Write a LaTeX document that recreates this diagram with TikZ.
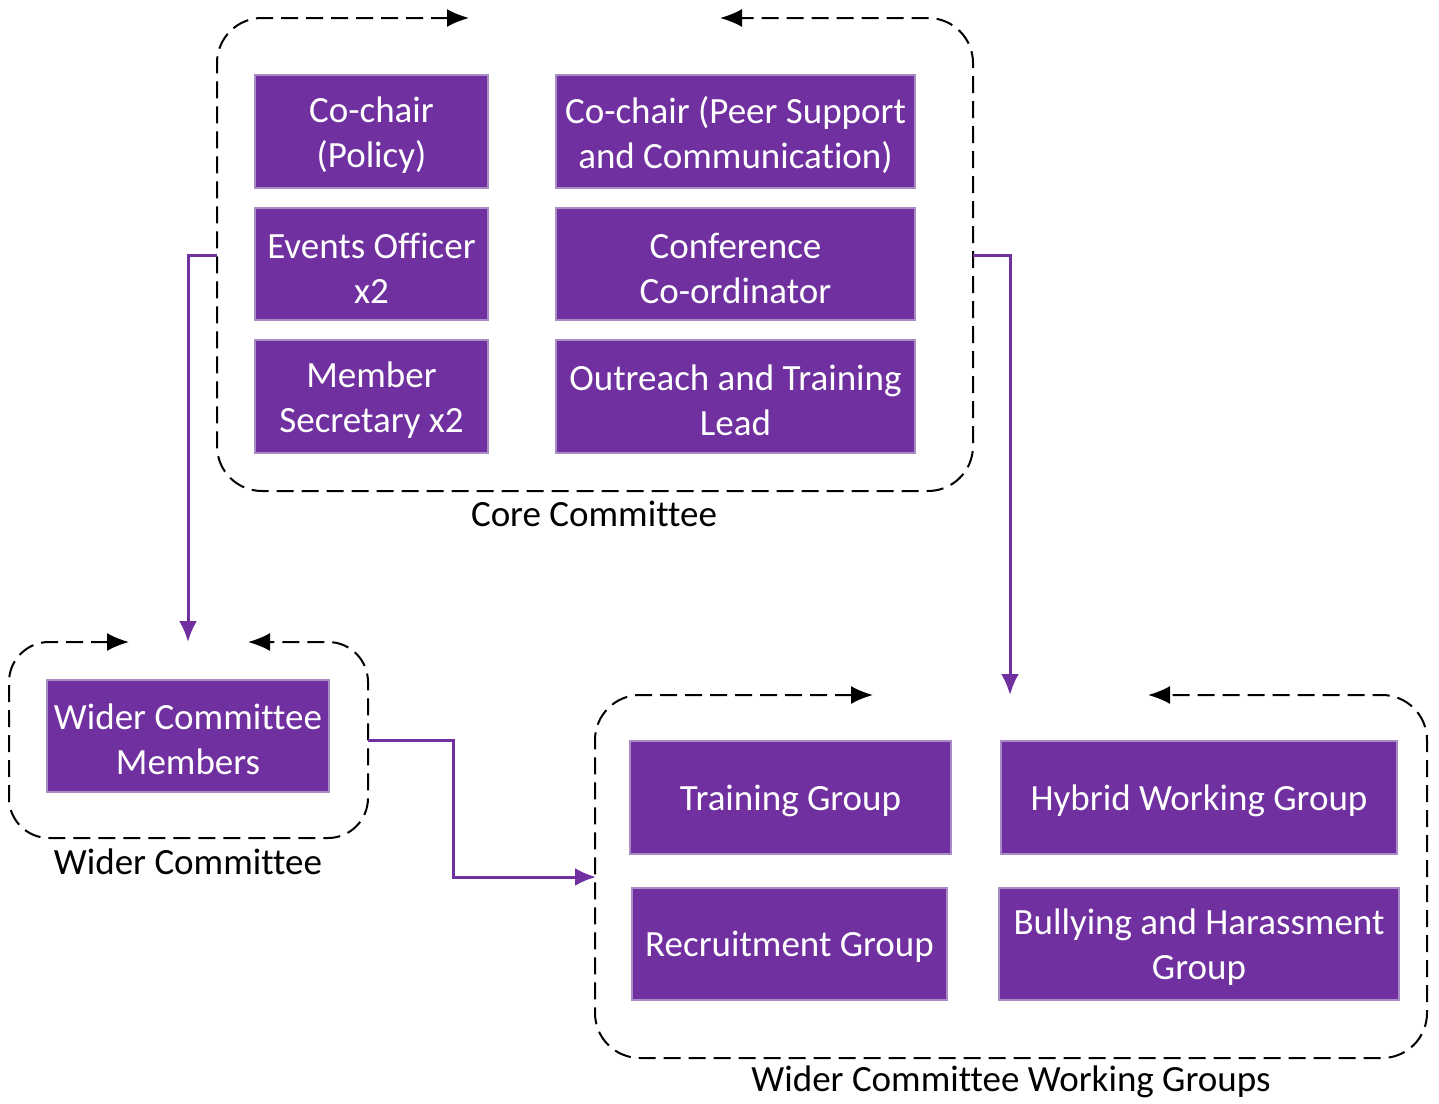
\documentclass[tikz,border=0pt]{standalone}
\usepackage{fontspec}
\setmainfont{Carlito}[Ligatures={NoCommon,NoRequired,NoContextual},RawFeature={-liga;-clig;-calt;-dlig}]
\usetikzlibrary{arrows.meta}
\definecolor{pfill}{HTML}{7030A0}
\definecolor{pedge}{HTML}{A98BC5}
\definecolor{pline}{HTML}{7030A0}
\tikzset{
  pbox/.style={draw=pedge, line width=1.2pt, fill=pfill, inner sep=0pt},
  ptext/.style={text=white, align=center, inner sep=0pt, font=\fontsize{37}{45}\selectfont},
  lbl/.style={inner sep=0pt, font=\fontsize{37}{45}\selectfont, text=black},
  container/.style={draw=black, line width=2pt, dash pattern=on 17pt off 8pt, rounded corners=45pt,
    {Latex[length=22pt,width=18pt]}-{Latex[length=22pt,width=18pt]}},
  link/.style={draw=pline, line width=3pt, -{Latex[length=21pt,width=18pt]}},
}
\begin{document}
\begin{tikzpicture}[x=1pt,y=-1pt]
\useasboundingbox (0,0) rectangle (1439,1103);
% containers
\draw[container] (469,18) -- (217,18) -- (217,491) -- (973,491) -- (973,18) -- (720,18);
\draw[container, rounded corners=40pt] (129,642) -- (9,642) -- (9,838) -- (368,838) -- (368,642) -- (248,642);
\draw[container] (873,695) -- (595,695) -- (595,1058) -- (1427,1058) -- (1427,695) -- (1148,695);
% side coordinates
\coordinate (coreL) at (217,255);
\coordinate (coreR) at (973,255);
\coordinate (wcTop) at (188,642);
\coordinate (wgTop) at (1010,695);
\coordinate (wcR) at (368,740);
\coordinate (wgL) at (596,877);
% core boxes
\node[pbox, minimum width=233, minimum height=113] (cochair) at (371.5,131.5) {};
\node[pbox, minimum width=359, minimum height=113] (cochairpeer) at (735.5,131.5) {};
\node[pbox, minimum width=233, minimum height=112] (events) at (371.5,264) {};
\node[pbox, minimum width=359, minimum height=112] (conf) at (735.5,264) {};
\node[pbox, minimum width=233, minimum height=113] (member) at (371.5,396.5) {};
\node[pbox, minimum width=359, minimum height=113] (outreach) at (735.5,396.5) {};
% wider committee
\node[pbox, minimum width=282, minimum height=112] (wcm) at (188,736) {};
% working groups
\node[pbox, minimum width=321, minimum height=113] (training) at (790.5,797.5) {};
\node[pbox, minimum width=396, minimum height=113] (hybrid) at (1199,797.5) {};
\node[pbox, minimum width=315, minimum height=112] (recruit) at (789.5,944) {};
\node[pbox, minimum width=400, minimum height=112] (bully) at (1199,944) {};
% box texts
\node[ptext] (cochair-t) at ([yshift=-4pt]cochair.center) {Co-chair\\(Policy)};
\node[ptext] (cochairpeer-t) at ([yshift=-4pt]cochairpeer.center) {Co-chair (Peer Support\\and Communication)};
\node[ptext] (events-t) at ([yshift=-4pt]events.center) {Events Officer\\x2};
\node[ptext] (conf-t) at ([yshift=-4pt]conf.center) {Conference\\Co-ordinator};
\node[ptext] (member-t) at ([yshift=-4pt]member.center) {Member\\Secretary x2};
\node[ptext] (outreach-t) at ([yshift=-4pt]outreach.center) {Outreach and Training\\Lead};
\node[ptext] (wcm-t) at ([yshift=-3pt]wcm.center) {Wider Committee\\Members};
\node[ptext] (training-t) at ([yshift=-3pt]training.center) {Training Group};
\node[ptext] (hybrid-t) at ([yshift=-3pt]hybrid.center) {Hybrid Working Group};
\node[ptext] (recruit-t) at ([yshift=-3pt]recruit.center) {Recruitment Group};
\node[ptext] (bully-t) at ([yshift=-3pt]bully.center) {Bullying and Harassment\\Group};
% labels
\node[lbl] (corelbl) at (594,514) {Core Committee};
\node[lbl] (wclbl) at (188,862) {Wider Committee};
\node[lbl] (wglbl) at (1011,1082) {Wider Committee Working Groups};
% connectors
\draw[link] (coreL) -| (wcTop);
\draw[link] (coreR) -| (wgTop);
\draw[link] (wcR) -- (453,740) |- (wgL);
\end{tikzpicture}
\end{document}
